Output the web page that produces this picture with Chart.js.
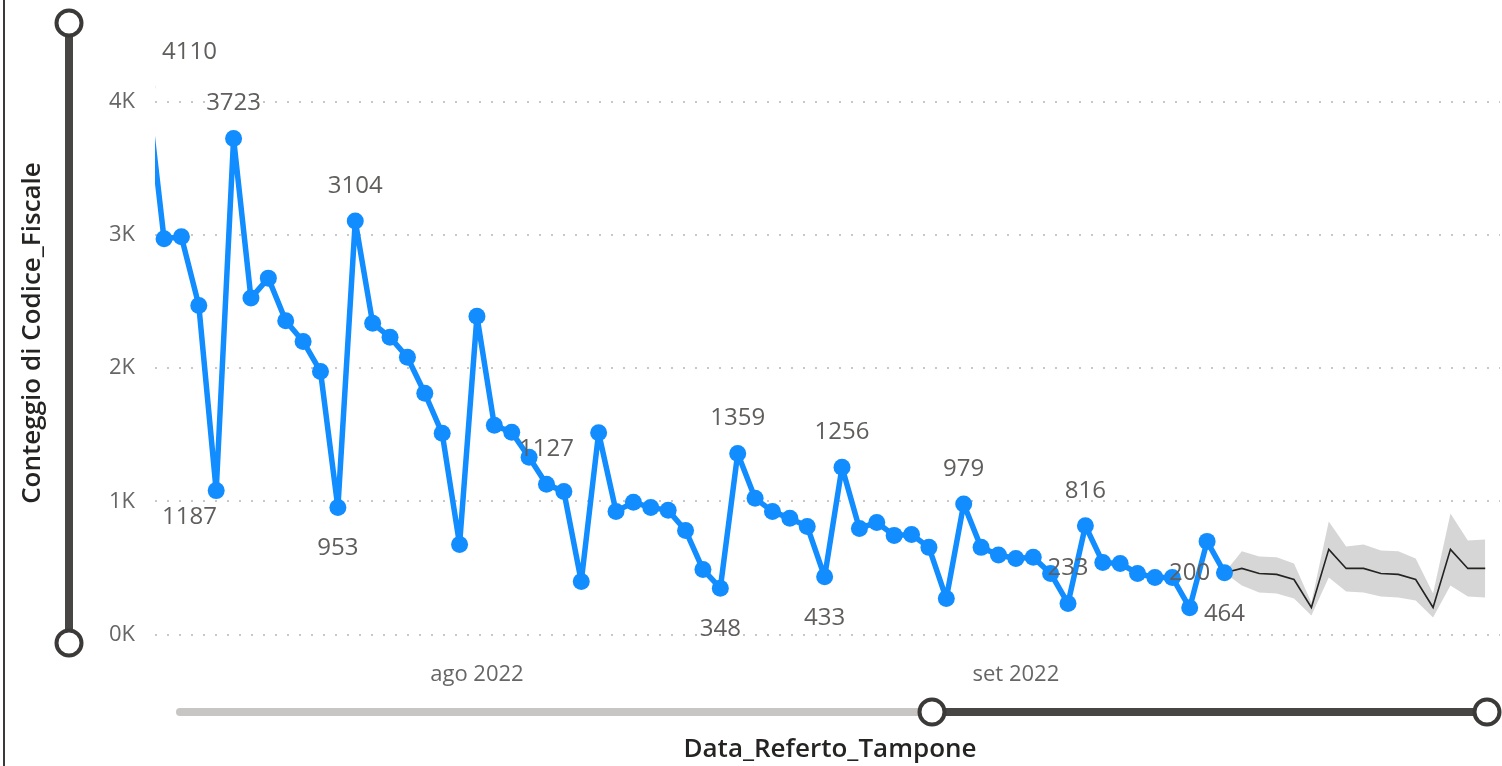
<!DOCTYPE html>
<html><head><meta charset="utf-8">
<script src="https://cdn.jsdelivr.net/npm/chart.js@4/dist/chart.umd.min.js"></script>
<style>html,body{margin:0;padding:0;background:#fff;overflow:hidden}#wrap{position:relative;width:1502px;height:766px}</style>
</head><body><div id="wrap"><canvas id="c" width="1502" height="766"></canvas></div>
<script>
// ---- data ----
const firstDate = '2022-07-12';
const actualValues = [1187, 4110, 2970, 2985, 2470, 1080, 3723, 2525, 2675, 2355, 2200, 1975, 953, 3104, 2337, 2231, 2081, 1811, 1510, 676, 2389, 1570, 1518, 1330, 1127, 1074, 398, 1514, 924, 992, 954, 932, 781, 488, 348, 1359, 1022, 924, 872, 811, 433, 1256, 796, 841, 744, 751, 654, 270, 979, 654, 597, 571, 579, 458, 233, 816, 541, 533, 458, 428, 428, 200, 699, 464];
const forecastStart = '2022-09-13';
const forecastValues = [464, 496, 458, 451, 413, 203, 639, 496, 496, 458, 451, 413, 203, 639, 496, 496];
const forecastUpper = [464, 624, 586, 579, 533, 240, 849, 661, 676, 631, 624, 571, 308, 909, 706, 714];
const forecastLower = [464, 368, 316, 308, 270, 143, 428, 323, 316, 286, 278, 255, 128, 368, 286, 278];
const labelDates = ['2022-07-12','2022-07-13','2022-07-18','2022-07-24','2022-07-25','2022-08-05','2022-08-15','2022-08-16','2022-08-21','2022-08-22','2022-08-29','2022-09-04','2022-09-05','2022-09-11','2022-09-13'];
const labelBelowDates = ['2022-07-12','2022-07-24','2022-08-15','2022-08-21','2022-09-13'];
const monthTicks = ['2022-08-01','2022-09-01'];
const monthTickLabels = ['ago 2022','set 2022'];
const yTicks = [0, 1000, 2000, 3000, 4000];
const yTitle = 'Conteggio di Codice_Fiscale';
const xTitle = 'Data_Referto_Tampone';
const viewStart = '2022-07-13';

// ---- helpers ----
function dayNum(iso){const [y,m,d]=iso.split('-').map(Number);return Date.UTC(y,m-1,d)/864e5;}
const d0 = dayNum(firstDate);
const actualPts = actualValues.map((v,i)=>({x:d0+i,y:v}));
const f0 = dayNum(forecastStart);
const fcPts = forecastValues.map((v,i)=>({x:f0+i,y:v}));
const upPts = forecastUpper.map((v,i)=>({x:f0+i,y:v}));
const loPts = forecastLower.map((v,i)=>({x:f0+i,y:v}));
const tickLabelMap = {};
monthTicks.forEach((d,i)=>tickLabelMap[dayNum(d)]=monthTickLabels[i]);
const labelSet = new Set(labelDates.map(dayNum));
const belowSet = new Set(labelBelowDates.map(dayNum));

const FONT = '"Open Sans", "Noto Sans", sans-serif';

const decor = {
  id:'decor',
  afterDraw(chart){
    const ctx = chart.ctx, ca = chart.chartArea;
    ctx.save();
    // data labels
    const meta = chart.getDatasetMeta(0);
    ctx.font = '24px ' + FONT;
    ctx.fillStyle = '#605e5c';
    ctx.textAlign = 'center';
    ctx.textBaseline = 'middle';
    meta.data.forEach((el,i)=>{
      const p = actualPts[i];
      if(!labelSet.has(p.x)) return;
      const txt = String(p.y);
      const w = ctx.measureText(txt).width;
      let x = el.x;
      x = Math.max(x, ca.left + 7 + w/2);
      x = Math.min(x, ca.right - w/2);
      const y = belowSet.has(p.x) ? el.y + 41 : el.y - 35;
      ctx.fillText(txt, x, y);
    });
    // left border
    ctx.fillStyle = '#3b3a39';
    ctx.fillRect(3,0,2,766);
    // vertical slicer
    const dark = '#484644';
    ctx.fillStyle = dark;
    ctx.fillRect(65, 23, 8, 620);
    // horizontal slicer
    ctx.lineCap = 'round';
    ctx.lineWidth = 8;
    ctx.strokeStyle = '#c8c6c4';
    ctx.beginPath(); ctx.moveTo(180,712); ctx.lineTo(932,712); ctx.stroke();
    ctx.strokeStyle = dark;
    ctx.lineCap = 'butt';
    ctx.beginPath(); ctx.moveTo(932,712); ctx.lineTo(1487,712); ctx.stroke();
    const knob = (x,y)=>{ctx.beginPath();ctx.arc(x,y,12.5,0,Math.PI*2);ctx.fillStyle='#fff';ctx.fill();ctx.lineWidth=4;ctx.strokeStyle='#3b3a39';ctx.stroke();};
    knob(69,23); knob(69,643); knob(932,712); knob(1487,712);
    // titles
    ctx.fillStyle = '#252423';
    ctx.font = '600 26px ' + FONT;
    ctx.textAlign='center'; ctx.textBaseline='middle';
    ctx.fillText(xTitle, 830, 750);
    ctx.translate(33, 333); ctx.rotate(-Math.PI/2);
    ctx.fillText(yTitle, 0, 0);
    ctx.restore();
  }
};

new Chart(document.getElementById('c'), {
  type:'line',
  data:{datasets:[
    {data:actualPts, borderColor:'#118DFF', backgroundColor:'#118DFF', borderWidth:5.5, borderJoinStyle:'round', pointRadius:8.5, pointBorderWidth:0, pointBackgroundColor:'#118DFF', tension:0, fill:false},
    {data:fcPts, borderColor:'#252423', borderWidth:1.6, pointRadius:0, tension:0, fill:false},
    {data:upPts, borderWidth:0, borderColor:'rgba(0,0,0,0)', pointRadius:0, backgroundColor:'#d6d6d6', fill:'+1', tension:0},
    {data:loPts, borderWidth:0, borderColor:'rgba(0,0,0,0)', pointRadius:0, fill:false, tension:0}
  ]},
  options:{
    responsive:false, animation:false, devicePixelRatio:1,
    layout:{autoPadding:false, padding:{left:0,right:2,top:35,bottom:0}},
    plugins:{legend:{display:false}, tooltip:{enabled:false}},
    scales:{
      x:{type:'linear', min:dayNum(viewStart)+0.48, max:dayNum(viewStart)+77.85,
         grid:{display:false}, border:{display:false},
         afterFit(s){s.height = 131.5;},
         afterBuildTicks(s){s.ticks = monthTicks.map(d=>({value:dayNum(d)}));},
         ticks:{autoSkip:false, maxRotation:0, padding:19, color:'#666666', font:{family:FONT,size:22},
                callback:(v)=>tickLabelMap[v]||''}},
      y:{min:0, max:4500,
         afterFit(s){s.width = 155;},
         afterBuildTicks(s){s.ticks = yTicks.map(v=>({value:v}));},
         grid:{color:'#c8c8c8', lineWidth:2, drawTicks:false},
         border:{display:false, dash:[2,10]},
         ticks:{padding:20, color:'#666666', font:{family:FONT,size:22}, callback:(v)=>(v/1000)+'K'}}
    }
  },
  plugins:[decor]
});
</script></body></html>
